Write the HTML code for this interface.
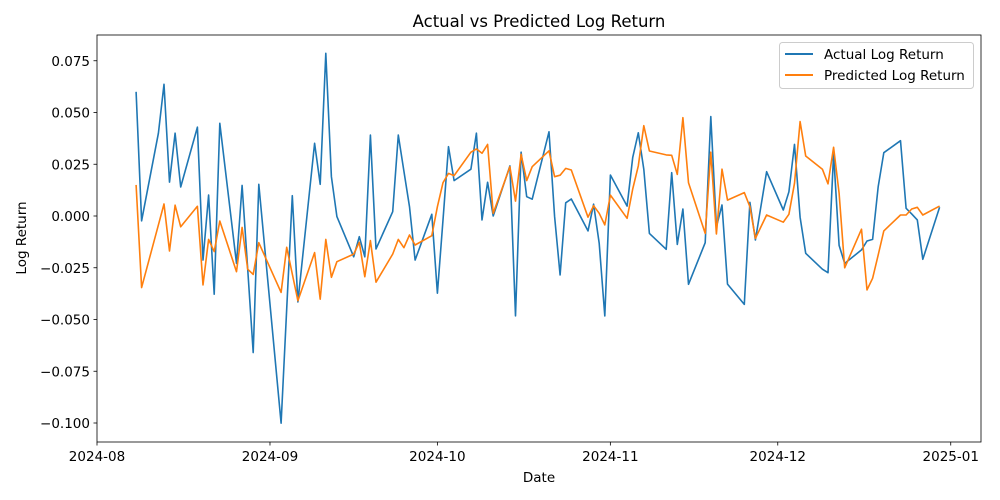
<!DOCTYPE html>
<html><head><meta charset="utf-8"><style>
body{margin:0;background:#fff}
svg{display:block;font-family:"DejaVu Sans","Liberation Sans",sans-serif}
</style></head><body>
<svg id="chart" width="1000" height="500" viewBox="0 0 1000 500">
<rect x="0" y="0" width="1000" height="500" fill="#fff"/>
<text x="539" y="27" font-size="16.5" text-anchor="middle" fill="#000">Actual vs Predicted Log Return</text>
<text x="539" y="482" font-size="13.5" text-anchor="middle" fill="#000">Date</text>
<text transform="translate(26,238) rotate(-90)" font-size="13.5" text-anchor="middle" fill="#000">Log Return</text>
<g id="plot"></g>
<g id="legend">
<rect x="779.5" y="42.5" width="194" height="46" rx="3" fill="#fff" fill-opacity="0.8" stroke="#ccc"/>
<line x1="785" y1="54" x2="813" y2="54" stroke="#1f77b4" stroke-width="2"/>
<text x="824" y="59" font-size="13.5" fill="#000">Actual Log Return</text>
<line x1="785" y1="75" x2="813" y2="75" stroke="#ff7f0e" stroke-width="2"/>
<text x="824" y="80" font-size="13.5" fill="#000">Predicted Log Return</text>
</g>
</svg>
<script>
// day offsets from 2024-08-01
const days=[7,8,11,12,13,14,15,18,19,20,21,22,25,26,27,28,29,33,34,35,36,39,40,41,42,43,46,47,48,49,50,53,54,55,56,57,60,61,62,63,64,67,68,69,70,71,74,75,76,77,78,81,82,83,84,85,88,89,90,91,92,95,96,97,98,99,102,103,104,105,106,109,110,111,112,113,116,117,118,120,123,124,125,126,127,130,131,132,133,134,137,138,139,140,141,144,145,146,147,148,151];
const actual=[0.0600,-0.0023,0.0400,0.0636,0.0164,0.0400,0.0140,0.0429,-0.0213,0.0101,-0.0378,0.0448,-0.0229,0.0148,-0.0256,-0.0660,0.0153,-0.1001,-0.0449,0.0098,-0.0415,0.0351,0.0153,0.0786,0.0190,-0.0003,-0.0197,-0.0100,-0.0197,0.0391,-0.0159,0.0021,0.0391,0.0217,0.0045,-0.0213,0.0008,-0.0373,-0.0019,0.0335,0.0171,0.0226,0.0400,-0.0019,0.0163,0.0000,0.0242,-0.0482,0.0308,0.0093,0.0081,0.0407,-0.0003,-0.0285,0.0064,0.0082,-0.0072,0.0057,-0.0132,-0.0483,0.0198,0.0048,0.0282,0.0402,0.0226,-0.0084,-0.0161,0.0209,-0.0137,0.0034,-0.0330,-0.0129,0.0480,-0.0052,0.0053,-0.0329,-0.0427,0.0066,-0.0116,0.0214,0.0029,0.0117,0.0346,-0.0006,-0.0180,-0.0257,-0.0274,0.0300,-0.0142,-0.0229,-0.0164,-0.0121,-0.0113,0.0142,0.0306,0.0364,0.0037,0.0010,-0.0019,-0.0209,0.0042];
const predicted=[0.0150,-0.0346,-0.0043,0.0058,-0.0169,0.0052,-0.0052,0.0047,-0.0333,-0.0113,-0.0172,-0.0024,-0.0269,-0.0055,-0.0257,-0.0282,-0.0129,-0.0369,-0.0151,-0.0280,-0.0409,-0.0177,-0.0402,-0.0113,-0.0296,-0.0221,-0.0184,-0.0127,-0.0293,-0.0119,-0.0320,-0.0184,-0.0113,-0.0153,-0.0092,-0.0140,-0.0095,0.0045,0.0161,0.0206,0.0195,0.0308,0.0324,0.0303,0.0346,0.0013,0.0238,0.0072,0.0298,0.0171,0.0238,0.0315,0.0190,0.0197,0.0230,0.0222,-0.0006,0.0050,0.0013,-0.0043,0.0101,-0.0011,0.0130,0.0242,0.0436,0.0314,0.0295,0.0293,0.0201,0.0475,0.0161,-0.0084,0.0308,-0.0087,0.0226,0.0077,0.0113,0.0045,-0.0108,0.0005,-0.0030,0.0008,0.0158,0.0456,0.0290,0.0226,0.0155,0.0332,0.0110,-0.0250,-0.0064,-0.0357,-0.0301,-0.0188,-0.0072,0.0005,0.0005,0.0034,0.0042,0.0005,0.0048];
const yTicks=[-0.100,-0.075,-0.050,-0.025,0.000,0.025,0.050,0.075];
const yTickLabels=["−0.100","−0.075","−0.050","−0.025","0.000","0.025","0.050","0.075"];
const xTicks=[0,31,61,92,122,153];
const xTickLabels=["2024-08","2024-09","2024-10","2024-11","2024-12","2025-01"];

const L=97,R=981,T=35,B=442;
const xs=d=>L+d*5.58;
const ys=v=>216-v*2070;
const NS="http://www.w3.org/2000/svg";
const g=document.getElementById('plot');
function mk(t,a){const e=document.createElementNS(NS,t);for(const k in a)e.setAttribute(k,a[k]);return e;}

yTicks.forEach((v,i)=>{
  const y=ys(v);
  const tk=mk('line',{x1:L-3.5,x2:L,y1:y,y2:y,stroke:'#000','stroke-width':0.8});
  
  
  g.appendChild(tk);
  const tx=mk('text',{x:L-7,y:y+5,'font-size':13.5,'text-anchor':'end',fill:'#000'});
  
  
  tx.textContent=yTickLabels[i];g.appendChild(tx);
});
xTicks.forEach((d,i)=>{
  const x=xs(d);
  const tk=mk('line',{x1:x,x2:x,y1:B,y2:B+3.5,stroke:'#000','stroke-width':0.8});
  
  
  g.appendChild(tk);
  const tx=mk('text',{x:x,y:B+19,'font-size':13.5,'text-anchor':'middle',fill:'#000'});
  
  
  tx.textContent=xTickLabels[i];g.appendChild(tx);
});
function line(vals,color,name){
  const p=mk('polyline',{points:days.map((d,i)=>xs(d).toFixed(1)+','+ys(vals[i]).toFixed(1)).join(' '),fill:'none',stroke:color,'stroke-width':1.6,'stroke-linejoin':'round'});
  
  
  g.appendChild(p);
}
line(actual,'#1f77b4','actual-line');
line(predicted,'#ff7f0e','predicted-line');
const fr=mk('rect',{x:L,y:T,width:R-L,height:B-T,fill:'none',stroke:'#000','stroke-width':0.8});


g.appendChild(fr);
</script>
</body></html>
